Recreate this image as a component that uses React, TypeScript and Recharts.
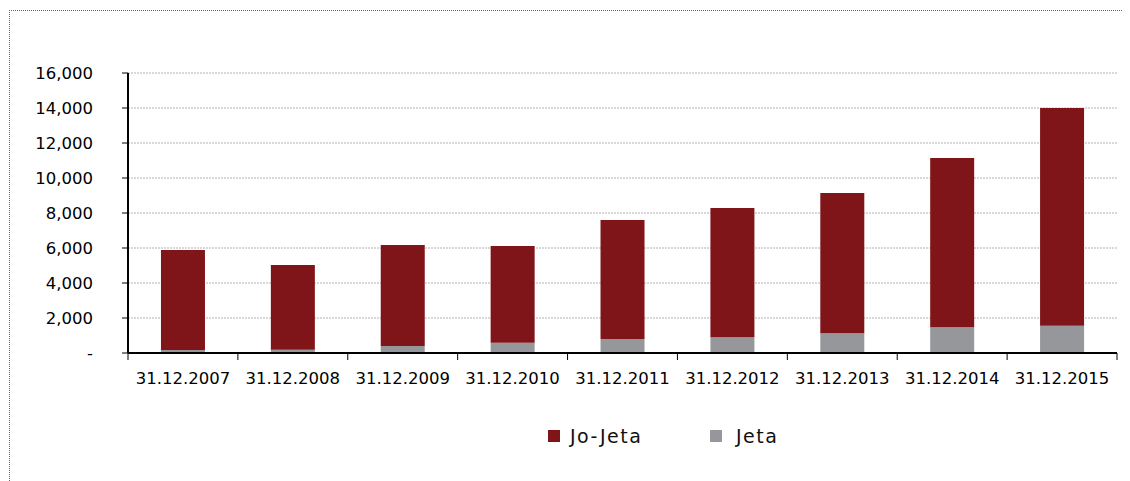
import { BarChart, Bar, XAxis, YAxis, CartesianGrid } from 'recharts';

const categories = [
  '31.12.2007', '31.12.2008', '31.12.2009', '31.12.2010', '31.12.2011',
  '31.12.2012', '31.12.2013', '31.12.2014', '31.12.2015',
];
// Jeta (gray, bottom) and Jo-Jeta (dark red, stacked on top)
const jeta = [170, 180, 400, 590, 800, 900, 1130, 1470, 1560];
const joJeta = [5720, 4850, 5770, 5520, 6800, 7390, 8010, 9670, 12440];
const yTicks = [0, 2000, 4000, 6000, 8000, 10000, 12000, 14000, 16000];
// category boundaries, for the tick marks between the dates
const edgeTicks = categories.map((_, i) => i).concat(categories.length);

const RED = '#7f1518';
const GRAY = '#96979a';
const FONT = '"DejaVu Sans", Verdana, sans-serif';

const legendItems = [
  { name: 'Jo-Jeta', color: RED, left: 548 },
  { name: 'Jeta', color: GRAY, left: 710 },
];

const data = categories.map((c, i) => ({ name: c, slot: i + 0.5, jeta: jeta[i], joJeta: joJeta[i] }));

const fmtY = (v: number) => (v === 0 ? '-' : v.toLocaleString('en-US'));

const App = () => {
  return (
    <div style={{ position: 'absolute', left: 0, top: 0, width: 1130, height: 481, background: '#fff', fontFamily: FONT }}>
      <div
        style={{
          position: 'absolute', left: 9, top: 10, right: 8, bottom: 0,
          borderTop: '1px dotted #666', borderLeft: '1px dotted #666',
        }}
      />
      <BarChart
        width={1130}
        height={481}
        data={data}
        margin={{ top: 73, right: 13, bottom: 80, left: 68 }}
        barCategoryGap="30%"
        style={{ position: 'absolute', left: 0, top: 0 }}
      >
        <CartesianGrid vertical={false} stroke="#a0a0a0" strokeDasharray="2 1" strokeWidth={0.8} />
        <XAxis
          xAxisId="a"
          type="number"
          dataKey="slot"
          domain={[0, categories.length]}
          allowDataOverflow
          ticks={edgeTicks}
          interval={0}
          tickFormatter={() => ''}
          height={8}
          tickSize={7}
          axisLine={{ stroke: '#000', strokeWidth: 2 }}
          tickLine={{ stroke: '#000', strokeWidth: 1 }}
        />
        <XAxis
          xAxisId="b"
          dataKey="name"
          height={40}
          axisLine={false}
          tickLine={false}
          tickSize={0}
          tickMargin={11}
          interval={0}
          tick={{ fill: '#000', fontSize: 16.5, fontFamily: FONT }}
        />
        <YAxis
          width={60}
          domain={[0, 16000]}
          ticks={yTicks}
          tickFormatter={fmtY}
          tickSize={6}
          tickMargin={29}
          axisLine={{ stroke: '#000', strokeWidth: 2 }}
          tickLine={{ stroke: '#000', strokeWidth: 1 }}
          tick={{ fill: '#000', fontSize: 16.5, fontFamily: FONT }}
        />
        <Bar xAxisId="b" dataKey="jeta" name="Jeta" stackId="s" fill={GRAY} isAnimationActive={false} />
        <Bar xAxisId="b" dataKey="joJeta" name="Jo-Jeta" stackId="s" fill={RED} isAnimationActive={false} />
      </BarChart>
      {legendItems.map((l) => (
        <div key={l.name} style={{ position: 'absolute', left: l.left, top: 426, display: 'flex', alignItems: 'center', height: 20 }}>
          <div style={{ width: 12, height: 12, background: l.color, marginRight: 10 }} />
          <span style={{ fontSize: 19, letterSpacing: 1.5, color: '#111', marginLeft: l.name === 'Jeta' ? 4 : 0 }}>{l.name}</span>
        </div>
      ))}
    </div>
  );
};

export default App;
